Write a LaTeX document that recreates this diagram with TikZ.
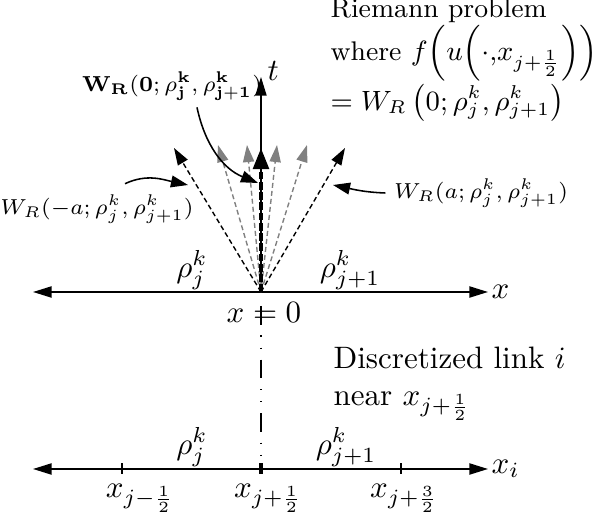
\documentclass[tikz,border=0pt]{standalone}
\usetikzlibrary{arrows.meta,calc}

\begin{document}
\begin{tikzpicture}[
  x=0.3225pt, y=0.3225pt,
  >={Triangle[length=6pt,width=3.6pt]},
  axis/.style={<->, line width=0.5pt},
  ray/.style={-{Triangle[length=5.5pt,width=3.6pt]}, line width=0.45pt,
              dash pattern=on 1.6pt off 1pt},
  grayray/.style={ray, gray},
  mainray/.style={-{Triangle[length=6.8pt,width=5pt]}, line width=1.3pt,
                  dash pattern=on 2.5pt off 0.8pt},
  pointer/.style={-{Triangle[length=5.5pt,width=3.8pt]}, line width=0.5pt},
  cut/.style={line width=0.4pt,
              dash pattern=on 6pt off 3.5pt on 0.4pt off 3.5pt on 0.4pt off 3.5pt},
  lab/.style={font=\fontsize{6.8pt}{8pt}\selectfont, inner sep=0pt},
  txt/.style={anchor=north west, inner sep=0pt, align=left},
]
  \useasboundingbox (0,0) rectangle (595,519);

  % Riemann problem at x = 0
  \coordinate (O) at (261,227);
  \coordinate (xL) at (33,227);
  \coordinate (xR) at (488,227);
  \coordinate (tT) at (261,442);
  \draw[axis] (xL) -- (xR);
  \draw[->, line width=0.4pt] (O) -- (tT);
  \node[anchor=west, inner sep=1pt] (xlab) at (xR) {$x$};
  \node[anchor=west, inner sep=1pt] (tlab) at (264,448) {$t$};

  % fan of waves
  \coordinate (g1) at (218,374);
  \coordinate (g2) at (247,374);
  \coordinate (g3) at (277,374);
  \coordinate (g4) at (307,374);
  \coordinate (rL) at (174,371);
  \coordinate (rR) at (345,371);
  \coordinate (rC) at (261,371);
  \draw[grayray] (O) -- (g1);
  \draw[grayray] (O) -- (g2);
  \draw[grayray] (O) -- (g3);
  \draw[grayray] (O) -- (g4);
  \draw[ray] (O) -- (rL);
  \draw[ray] (O) -- (rR);
  \draw[mainray] (O) -- (rC);

  \node (rj) at (192,249) {$\rho_j^k$};
  \node (rjj) at (350,249) {$\rho_{j+1}^k$};
  \node (x0) at (264,206) {$x=0$};

  % labels of the waves
  \node[lab] (w0) at (172,433) {$\mathbf{W_R}(\mathbf{0};\rho_{\mathbf{j}}^{\mathbf{k}},\rho_{\mathbf{j+1}}^{\mathbf{k}})$};
  \node[lab] (wm) at (97,310) {$W_R(-a;\rho_j^k,\rho_{j+1}^k)$};
  \node[lab] (wp) at (481,326) {$W_R(a;\rho_j^k,\rho_{j+1}^k)$};
  \coordinate (w0end) at (258,336);
  \coordinate (wmend) at (188,334);
  \coordinate (wpend) at (333,334);
  \draw[pointer] ($(w0.south)+(25,-6)$) to[out=-78, in=158] (w0end);
  \draw[pointer] ($(wm.north)+(28,10)$) to[out=25, in=168] (wmend);
  \draw[pointer] ($(wp.west)+(-8,0)$) to[out=178, in=-12] (wpend);

  \node[txt, font=\fontsize{8.7pt}{10.6pt}\selectfont] (rp) at (330,521)
    {Riemann problem\\
     where $f\!\left(u\!\left(\cdot,\!x_{j+\frac{1}{2}}\right)\right)$\\
     $=W_R\left(0;\rho_j^k,\rho_{j+1}^k\right)$};

  % discretized link
  \node[txt] (link) at (333,173) {Discretized link $i$\\ near $x_{j+\frac{1}{2}}$};

  \coordinate (bL) at (33,50);
  \coordinate (bR) at (488,50);
  \coordinate (tk0) at (261,50);
  \draw[axis] (bL) -- (bR);
  \node[anchor=west, inner sep=1pt] (xilab) at (bR) {$x_i$};
  \draw[line width=0.5pt] (122,45) -- (122,56);
  \draw[line width=0.5pt] (401,45) -- (401,56);
  \draw[line width=1.1pt] (261,45) -- (261,56);
  \draw[cut] (261,213) -- (tk0);

  \node (bj) at (192,72) {$\rho_j^k$};
  \node (bjj) at (346,72) {$\rho_{j+1}^k$};
  \node (xm) at (140,21) {$x_{j-\frac{1}{2}}$};
  \node (xc) at (268,21) {$x_{j+\frac{1}{2}}$};
  \node (xp) at (404,21) {$x_{j+\frac{3}{2}}$};
\end{tikzpicture}
\end{document}
